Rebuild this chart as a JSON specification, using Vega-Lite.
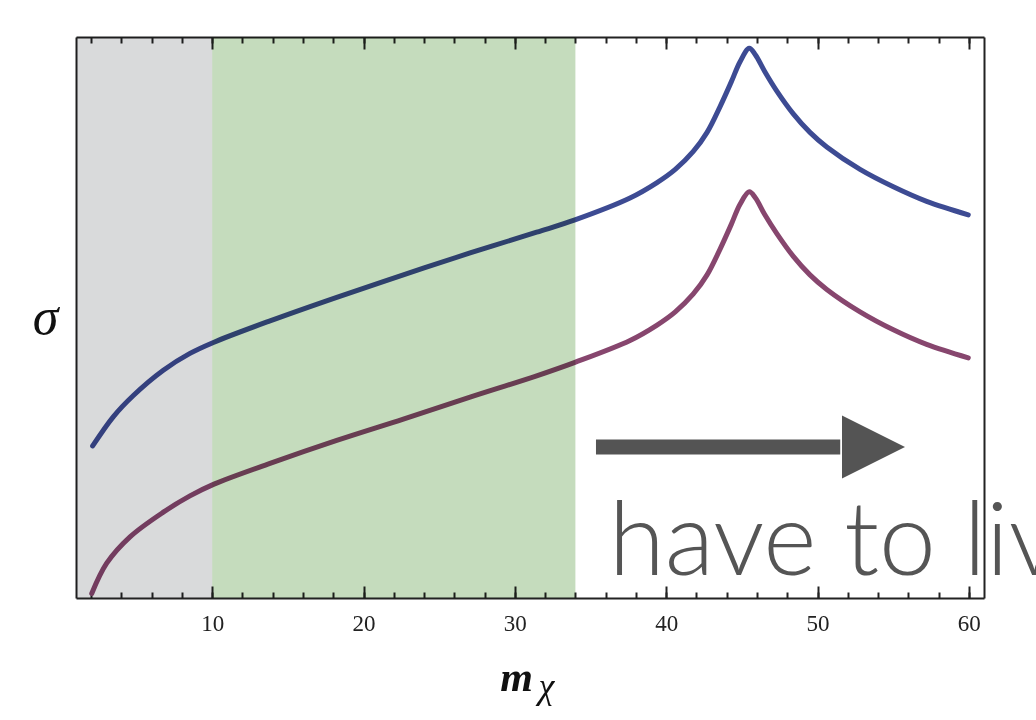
{
  "$schema": "https://vega.github.io/schema/vega-lite/v6.json",
  "width": 908,
  "height": 561,
  "autosize": {"type": "none"},
  "padding": {"left": 76, "top": 37, "right": 52, "bottom": 122},
  "background": "white",
  "config": {
    "view": {"stroke": null},
    "axis": {"zindex": 1, "grid": false, "domainColor": "#222222", "domainWidth": 2, "tickColor": "#222222", "tickWidth": 2}
  },
  "datasets": {
    "curves": [
      {"series": "upper", "m": 2.1, "sigma": 27.1},
      {"series": "upper", "m": 3.46, "sigma": 32.3},
      {"series": "upper", "m": 4.79, "sigma": 36.1},
      {"series": "upper", "m": 6.77, "sigma": 40.6},
      {"series": "upper", "m": 8.53, "sigma": 43.6},
      {"series": "upper", "m": 10.12, "sigma": 45.6},
      {"series": "upper", "m": 13.82, "sigma": 49.4},
      {"series": "upper", "m": 18.23, "sigma": 53.6},
      {"series": "upper", "m": 22.63, "sigma": 57.6},
      {"series": "upper", "m": 27.04, "sigma": 61.5},
      {"series": "upper", "m": 31.44, "sigma": 65.2},
      {"series": "upper", "m": 33.97, "sigma": 67.4},
      {"series": "upper", "m": 37.61, "sigma": 71.3},
      {"series": "upper", "m": 39.37, "sigma": 74.0},
      {"series": "upper", "m": 40.6, "sigma": 76.4},
      {"series": "upper", "m": 41.79, "sigma": 79.6},
      {"series": "upper", "m": 42.7, "sigma": 83.0},
      {"series": "upper", "m": 43.56, "sigma": 87.6},
      {"series": "upper", "m": 44.3, "sigma": 92.0},
      {"series": "upper", "m": 44.88, "sigma": 95.6},
      {"series": "upper", "m": 45.49, "sigma": 98.0},
      {"series": "upper", "m": 45.9, "sigma": 96.8},
      {"series": "upper", "m": 46.5, "sigma": 93.9},
      {"series": "upper", "m": 47.3, "sigma": 90.4},
      {"series": "upper", "m": 48.4, "sigma": 86.3},
      {"series": "upper", "m": 49.5, "sigma": 83.0},
      {"series": "upper", "m": 50.61, "sigma": 80.4},
      {"series": "upper", "m": 52.81, "sigma": 76.4},
      {"series": "upper", "m": 55.01, "sigma": 73.3},
      {"series": "upper", "m": 57.21, "sigma": 70.7},
      {"series": "upper", "m": 59.96, "sigma": 68.3},
      {"series": "lower", "m": 2.04, "sigma": 0.8},
      {"series": "lower", "m": 3.03, "sigma": 6.2},
      {"series": "lower", "m": 4.57, "sigma": 10.9},
      {"series": "lower", "m": 6.77, "sigma": 15.3},
      {"series": "lower", "m": 8.53, "sigma": 18.2},
      {"series": "lower", "m": 10.12, "sigma": 20.3},
      {"series": "lower", "m": 13.82, "sigma": 24.0},
      {"series": "lower", "m": 18.23, "sigma": 28.1},
      {"series": "lower", "m": 22.63, "sigma": 31.9},
      {"series": "lower", "m": 27.04, "sigma": 35.8},
      {"series": "lower", "m": 31.44, "sigma": 39.6},
      {"series": "lower", "m": 33.97, "sigma": 42.0},
      {"series": "lower", "m": 37.61, "sigma": 45.9},
      {"series": "lower", "m": 39.37, "sigma": 48.6},
      {"series": "lower", "m": 40.6, "sigma": 51.0},
      {"series": "lower", "m": 41.79, "sigma": 54.2},
      {"series": "lower", "m": 42.7, "sigma": 57.6},
      {"series": "lower", "m": 43.56, "sigma": 62.2},
      {"series": "lower", "m": 44.3, "sigma": 66.6},
      {"series": "lower", "m": 44.88, "sigma": 70.2},
      {"series": "lower", "m": 45.49, "sigma": 72.4},
      {"series": "lower", "m": 45.9, "sigma": 71.3},
      {"series": "lower", "m": 46.5, "sigma": 68.4},
      {"series": "lower", "m": 47.3, "sigma": 65.0},
      {"series": "lower", "m": 48.4, "sigma": 60.9},
      {"series": "lower", "m": 49.5, "sigma": 57.6},
      {"series": "lower", "m": 50.61, "sigma": 55.0},
      {"series": "lower", "m": 52.81, "sigma": 51.0},
      {"series": "lower", "m": 55.01, "sigma": 47.8},
      {"series": "lower", "m": 57.21, "sigma": 45.2},
      {"series": "lower", "m": 59.96, "sigma": 42.8}
    ],
    "regions": [
      {"zone": "excluded", "start": 1, "end": 10},
      {"zone": "allowed", "start": 10, "end": 34}
    ],
    "arrow": [
      {"x0": 35.36, "x1": 51.5, "head": 53.7, "y": 26.9}
    ],
    "note": [
      {"label": "have to live", "x": 36.2, "y": 4.1}
    ]
  },
  "layer": [
    {
      "data": {"name": "curves"},
      "mark": {"type": "line", "strokeWidth": 5, "interpolate": "catmull-rom", "strokeCap": "round"},
      "encoding": {
        "x": {
          "field": "m", "type": "quantitative",
          "scale": {"domain": [1, 61], "nice": false, "zero": false},
          "axis": {
            "orient": "bottom", "values": [10, 20, 30, 40, 50, 60], "tickSize": -12,
            "labelPadding": 26, "labelFont": "Liberation Serif", "labelFontSize": 23, "labelColor": "#222222",
            "title": "m", "titleFont": "Liberation Serif", "titleFontStyle": "italic", "titleFontWeight": "bold",
            "titleFontSize": 42, "titleColor": "#111111", "titleX": 440, "titleY": 92,
            "titleAlign": "center", "titleBaseline": "alphabetic"
          }
        },
        "y": {
          "field": "sigma", "type": "quantitative",
          "scale": {"domain": [0, 100], "nice": false, "zero": false},
          "axis": {
            "orient": "left", "ticks": false, "labels": false,
            "title": "σ", "titleAngle": 0, "titleFont": "Liberation Serif", "titleFontStyle": "italic",
            "titleFontWeight": "normal", "titleFontSize": 52, "titleColor": "#111111",
            "titleX": -31, "titleY": 280, "titleAlign": "center", "titleBaseline": "middle"
          }
        },
        "stroke": {
          "field": "series", "type": "nominal",
          "scale": {"domain": ["upper", "lower"], "range": ["#3d4b93", "#87466e"]},
          "legend": null
        }
      }
    },
    {
      "data": {"name": "regions"},
      "mark": {"type": "rect", "blend": "multiply"},
      "encoding": {
        "x": {
          "field": "start", "type": "quantitative",
          "scale": {"domain": [1, 61], "nice": false, "zero": false},
          "axis": {
            "orient": "bottom",
            "values": [2, 4, 6, 8, 10, 12, 14, 16, 18, 20, 22, 24, 26, 28, 30, 32, 34, 36, 38, 40, 42, 44, 46, 48, 50, 52, 54, 56, 58, 60],
            "tickSize": -6, "labels": false, "domain": false,
            "title": "χ", "titleFont": "Liberation Serif", "titleFontStyle": "italic", "titleFontWeight": "normal",
            "titleFontSize": 36, "titleColor": "#111111", "titleX": 470, "titleY": 99,
            "titleAlign": "center", "titleBaseline": "alphabetic"
          }
        },
        "x2": {"field": "end"},
        "fill": {
          "field": "zone", "type": "nominal",
          "scale": {"domain": ["excluded", "allowed"], "range": ["#d9dadb", "#c5dcbd"]},
          "legend": null
        }
      }
    },
    {
      "data": {"name": "arrow"},
      "mark": {"type": "rule", "strokeWidth": 15, "color": "#545454"},
      "encoding": {
        "x": {
          "field": "x0", "type": "quantitative",
          "scale": {"domain": [1, 61], "nice": false, "zero": false},
          "axis": {"orient": "top", "values": [10, 20, 30, 40, 50, 60], "tickSize": -12, "labels": false, "title": null}
        },
        "x2": {"field": "x1"},
        "y": {
          "field": "y", "type": "quantitative",
          "scale": {"domain": [0, 100], "nice": false, "zero": false},
          "axis": {"orient": "right", "ticks": false, "labels": false, "title": null}
        }
      }
    },
    {
      "data": {"name": "arrow"},
      "mark": {"type": "point", "shape": "M-1,-1L1,0L-1,1Z", "size": 3969, "filled": true, "color": "#545454", "opacity": 1},
      "encoding": {
        "x": {
          "field": "head", "type": "quantitative",
          "scale": {"domain": [1, 61], "nice": false, "zero": false},
          "axis": {
            "orient": "top",
            "values": [2, 4, 6, 8, 10, 12, 14, 16, 18, 20, 22, 24, 26, 28, 30, 32, 34, 36, 38, 40, 42, 44, 46, 48, 50, 52, 54, 56, 58, 60],
            "tickSize": -6, "labels": false, "domain": false, "title": null
          }
        },
        "y": {"field": "y", "type": "quantitative", "scale": {"domain": [0, 100], "nice": false, "zero": false}, "axis": null}
      }
    },
    {
      "data": {"name": "note"},
      "mark": {"type": "text", "font": "Lato", "fontWeight": 300, "fontSize": 102, "color": "#555555", "align": "left", "baseline": "alphabetic"},
      "encoding": {
        "x": {"field": "x", "type": "quantitative", "scale": {"domain": [1, 61], "nice": false, "zero": false}, "axis": null},
        "y": {"field": "y", "type": "quantitative", "scale": {"domain": [0, 100], "nice": false, "zero": false}, "axis": null},
        "text": {"field": "label"}
      }
    }
  ],
  "resolve": {"axis": {"x": "independent", "y": "independent"}}
}
